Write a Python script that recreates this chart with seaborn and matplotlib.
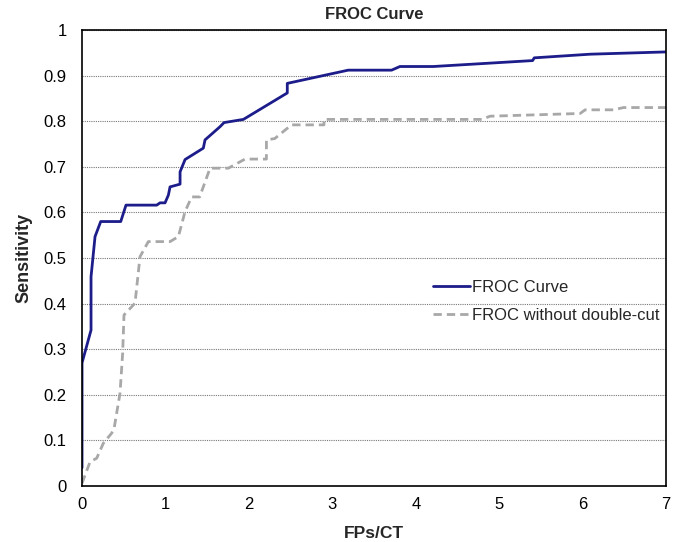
import numpy as np
import pandas as pd
import matplotlib
matplotlib.use("Agg")
import matplotlib.pyplot as plt
import seaborn as sns

# FROC curve (with double-cut)
froc_x = [0.0, 0.0, 0.108, 0.108, 0.156, 0.224, 0.464, 0.527, 0.895, 0.935, 0.995,
          1.035, 1.055, 1.175, 1.175, 1.235, 1.454, 1.474, 1.654, 1.702, 1.934,
          2.46, 2.46, 3.19, 3.71, 3.81, 4.21, 5.40, 5.42, 6.09, 7.0]
froc_y = [0.04, 0.27, 0.342, 0.459, 0.547, 0.58, 0.58, 0.616, 0.616, 0.621, 0.621,
          0.638, 0.656, 0.662, 0.689, 0.716, 0.741, 0.759, 0.788, 0.797, 0.804,
          0.862, 0.883, 0.912, 0.912, 0.92, 0.92, 0.933, 0.939, 0.947, 0.952]

# FROC without double-cut
nodc_x = [0.0, 0.096, 0.176, 0.256, 0.356, 0.384, 0.455, 0.487, 0.503, 0.635, 0.695,
          0.795, 1.055, 1.155, 1.235, 1.314, 1.41, 1.534, 1.754, 1.954, 2.21, 2.21,
          2.31, 2.51, 2.90, 2.90, 4.79, 4.89, 5.97, 6.03, 6.37, 6.49, 7.0]
nodc_y = [0.006, 0.053, 0.061, 0.094, 0.116, 0.126, 0.203, 0.291, 0.375, 0.401, 0.503,
          0.536, 0.536, 0.547, 0.602, 0.634, 0.634, 0.697, 0.697, 0.717, 0.717, 0.759,
          0.762, 0.792, 0.792, 0.804, 0.804, 0.811, 0.817, 0.825, 0.825, 0.830, 0.830]

x_ticks = [0, 1, 2, 3, 4, 5, 6, 7]
y_ticks = [0, 0.1, 0.2, 0.3, 0.4, 0.5, 0.6, 0.7, 0.8, 0.9, 1]
y_tick_labels = ["0", "0.1", "0.2", "0.3", "0.4", "0.5", "0.6", "0.7", "0.8", "0.9", "1"]

sns.set_style("white")
plt.rcParams["font.family"] = ["Liberation Sans", "DejaVu Sans"]

fig = plt.figure(figsize=(6.79, 5.42), dpi=100)
ax = fig.add_axes([0.1208, 0.1033, 0.8602, 0.8413])

df1 = pd.DataFrame({"x": froc_x, "y": froc_y})
df2 = pd.DataFrame({"x": nodc_x, "y": nodc_y})

sns.lineplot(data=df1, x="x", y="y", ax=ax, sort=False, estimator=None,
             color="#1c1c8a", linewidth=2.0, label="FROC Curve")
sns.lineplot(data=df2, x="x", y="y", ax=ax, sort=False, estimator=None,
             color="#a8a8a8", linewidth=2.0, linestyle=(0, (3, 1.8)),
             label="FROC without double-cut")

ax.set_xlim(0, 7)
ax.set_ylim(0, 1)
ax.set_xticks(x_ticks)
ax.set_yticks(y_ticks)
ax.set_yticklabels(y_tick_labels)
ax.tick_params(axis="both", labelsize=12, length=0, colors="#000000")
ax.tick_params(axis="x", pad=8)
ax.tick_params(axis="y", pad=11)
ax.yaxis.grid(True, linestyle=(0, (1, 1)), color="#777777", linewidth=0.8)
ax.xaxis.grid(False)
for s in ax.spines.values():
    s.set_color("#000000")
    s.set_linewidth(1.2)

ax.set_title("FROC Curve", fontsize=12, fontweight="bold", pad=8)
ax.set_xlabel("FPs/CT", fontsize=12.5, fontweight="bold", labelpad=10)
ax.set_ylabel("Sensitivity", fontsize=13, fontweight="bold", labelpad=8)

leg = ax.legend(loc="center left", bbox_to_anchor=(0.575, 0.405), frameon=False,
                fontsize=12, handlelength=2.2, handletextpad=0.15, labelspacing=0.75)

fig.savefig("out.png", dpi=100, facecolor="white")
